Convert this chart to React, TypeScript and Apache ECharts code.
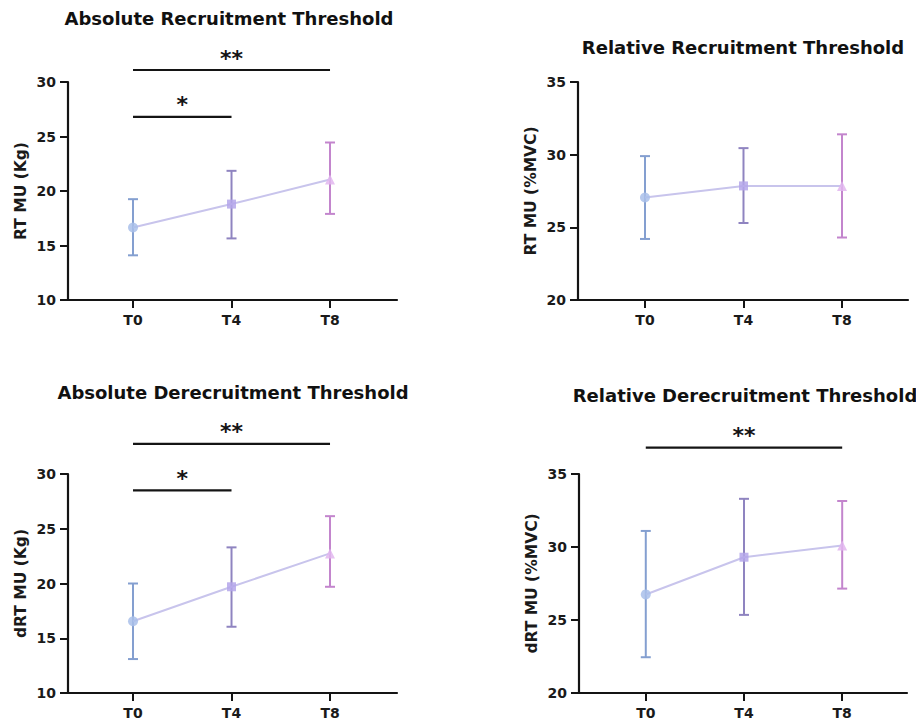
import React, { useEffect, useRef } from "react";
import * as echarts from "echarts";

const FONT = "DejaVu Sans";

const categories = ["T0", "T4", "T8"];

// Absolute recruitment threshold (Kg)
const absRTMean = [16.65, 18.8, 21.05];
const absRTLow = [14.1, 15.65, 17.9];
const absRTHigh = [19.25, 21.85, 24.45];

// Relative recruitment threshold (%MVC)
const relRTMean = [27.05, 27.85, 27.85];
const relRTLow = [24.2, 25.3, 24.3];
const relRTHigh = [29.9, 30.45, 31.4];

// Absolute derecruitment threshold (Kg)
const absDRTMean = [16.55, 19.7, 22.75];
const absDRTLow = [13.1, 16.05, 19.7];
const absDRTHigh = [20.0, 23.3, 26.15];

// Relative derecruitment threshold (%MVC)
const relDRTMean = [26.75, 29.3, 30.1];
const relDRTLow = [22.45, 25.35, 27.15];
const relDRTHigh = [31.1, 33.3, 33.15];

// significance brackets: [fromIndex, toIndex, level, label]
const absRTSig: [number, number, number, string][] = [
  [0, 2, 31.1, "**"],
  [0, 1, 26.8, "*"],
];
const relRTSig: [number, number, number, string][] = [];
const absDRTSig: [number, number, number, string][] = [
  [0, 2, 32.75, "**"],
  [0, 1, 28.5, "*"],
];
const relDRTSig: [number, number, number, string][] = [[0, 2, 36.8, "**"]];

const titles = [
  "Absolute Recruitment Threshold",
  "Relative Recruitment Threshold",
  "Absolute Derecruitment Threshold",
  "Relative Derecruitment Threshold",
];
const yNames = ["RT MU (Kg)", "RT MU (%MVC)", "dRT MU (Kg)", "dRT MU (%MVC)"];

const barColors = ["#849fd0", "#8f84c0", "#c385cd"];
const markerColors = ["#a9bfea", "#b4a6ea", "#e2b6ee"];
const markerSymbols = ["circle", "rect", "triangle"];
const lineColor = "#c8c4ec";
const axisColor = "#141414";

type Panel = {
  mean: number[];
  low: number[];
  high: number[];
  sig: [number, number, number, string][];
  yMin: number;
  yMax: number;
  grid: { left: number; top: number; width: number; height: number };
  xMin: number;
  xMax: number;
  title: string;
  titleX: number;
  titleY: number;
  yName: string;
};

const panels: Panel[] = [
  {
    mean: absRTMean, low: absRTLow, high: absRTHigh, sig: absRTSig,
    yMin: 10, yMax: 30,
    grid: { left: 68, top: 82, width: 329, height: 218 },
    xMin: -0.66, xMax: 2.68,
    title: titles[0], titleX: 229, titleY: 18, yName: yNames[0],
  },
  {
    mean: relRTMean, low: relRTLow, high: relRTHigh, sig: relRTSig,
    yMin: 20, yMax: 35,
    grid: { left: 578, top: 82, width: 330, height: 218 },
    xMin: -0.68, xMax: 2.67,
    title: titles[1], titleX: 743, titleY: 47, yName: yNames[1],
  },
  {
    mean: absDRTMean, low: absDRTLow, high: absDRTHigh, sig: absDRTSig,
    yMin: 10, yMax: 30,
    grid: { left: 68, top: 474, width: 329, height: 219 },
    xMin: -0.66, xMax: 2.68,
    title: titles[2], titleX: 233, titleY: 392, yName: yNames[2],
  },
  {
    mean: relDRTMean, low: relDRTLow, high: relDRTHigh, sig: relDRTSig,
    yMin: 20, yMax: 35,
    grid: { left: 579, top: 474, width: 328, height: 219 },
    xMin: -0.68, xMax: 2.66,
    title: titles[3], titleX: 745, titleY: 395, yName: yNames[3],
  },
];

function buildOption() {
  const grid: any[] = [];
  const xAxis: any[] = [];
  const yAxis: any[] = [];
  const series: any[] = [];
  const graphic: any[] = [];

  panels.forEach((p, k) => {
    grid.push({ ...p.grid, containLabel: false });
    xAxis.push({
      type: "value",
      gridIndex: k,
      min: p.xMin,
      max: p.xMax,
      splitLine: { show: false },
      axisLine: { show: true, onZero: false, lineStyle: { color: axisColor, width: 2.2 } },
      axisTick: { show: true, customValues: [0, 1, 2], length: 8, lineStyle: { color: axisColor, width: 2 } },
      axisLabel: {
        customValues: [0, 1, 2],
        formatter: (v: number) => categories[Math.round(v)],
        color: "#1a1a1a",
        fontFamily: FONT,
        fontWeight: "bold",
        fontSize: 14,
        margin: 13,
      },
    });
    yAxis.push({
      type: "value",
      gridIndex: k,
      min: p.yMin,
      max: p.yMax,
      interval: 5,
      splitLine: { show: false },
      name: p.yName,
      nameLocation: "middle",
      nameGap: 39,
      nameRotate: 90,
      nameTextStyle: { color: "#1a1a1a", fontFamily: FONT, fontWeight: "bold", fontSize: 15.5 },
      axisLine: { show: true, onZero: false, lineStyle: { color: axisColor, width: 2.2 } },
      axisTick: { show: true, length: 8, lineStyle: { color: axisColor, width: 2 } },
      axisLabel: { color: "#1a1a1a", fontFamily: FONT, fontWeight: "bold", fontSize: 14, margin: 12 },
    });

    // error bars
    series.push({
      type: "custom",
      xAxisIndex: k,
      yAxisIndex: k,
      z: 2,
      clip: false,
      data: p.mean.map((_, i) => [i, p.low[i], p.high[i]]),
      renderItem: (params: any, api: any) => {
        const i = api.value(0);
        const top = api.coord([i, api.value(2)]);
        const bot = api.coord([i, api.value(1)]);
        const cap = 5;
        const style = { stroke: barColors[i], lineWidth: 2 };
        return {
          type: "group",
          children: [
            { type: "line", shape: { x1: top[0], y1: top[1], x2: bot[0], y2: bot[1] }, style },
            { type: "line", shape: { x1: top[0] - cap, y1: top[1], x2: top[0] + cap, y2: top[1] }, style },
            { type: "line", shape: { x1: bot[0] - cap, y1: bot[1], x2: bot[0] + cap, y2: bot[1] }, style },
          ],
        };
      },
    });

    // mean line
    series.push({
      type: "line",
      xAxisIndex: k,
      yAxisIndex: k,
      z: 3,
      lineStyle: { color: lineColor, width: 2 },
      symbolSize: 8,
      data: p.mean.map((m, i) => ({
        value: [i, m],
        symbol: markerSymbols[i],
        symbolSize: markerSymbols[i] === "rect" ? 9 : 10,
        itemStyle: { color: markerColors[i], opacity: 0.85 },
      })),
    });

    // significance brackets
    if (p.sig.length) {
      series.push({
        type: "custom",
        xAxisIndex: k,
        yAxisIndex: k,
        z: 4,
        clip: false,
        data: p.sig.map((s) => [s[0], s[1], s[2], s[3]]),
        renderItem: (params: any, api: any) => {
          const a = api.coord([api.value(0), api.value(2)]);
          const b = api.coord([api.value(1), api.value(2)]);
          const label = p.sig[params.dataIndex][3];
          return {
            type: "group",
            children: [
              {
                type: "line",
                shape: { x1: a[0], y1: a[1], x2: b[0], y2: b[1] },
                style: { stroke: "#141414", lineWidth: 2.2 },
              },
              {
                type: "text",
                x: (a[0] + b[0]) / 2,
                y: a[1] - 12,
                style: {
                  text: label,
                  fill: "#141414",
                  font: `bold 22px '${FONT}'`,
                  textAlign: "center",
                  textVerticalAlign: "middle",
                },
              },
            ],
          };
        },
      });
    }

    graphic.push({
      type: "text",
      x: p.titleX,
      y: p.titleY,
      style: {
        text: p.title,
        fill: "#111",
        font: `bold 18px '${FONT}'`,
        textAlign: "center",
        textVerticalAlign: "middle",
      },
    });
  });

  return {
    animation: false,
    backgroundColor: "#ffffff",
    grid,
    xAxis,
    yAxis,
    series,
    graphic,
  };
}

export default function App() {
  const ref = useRef<HTMLDivElement>(null);
  useEffect(() => {
    if (!ref.current) return;
    const chart = echarts.init(ref.current, null, { renderer: "svg" });
    chart.setOption(buildOption() as any);
    return () => chart.dispose();
  }, []);
  return (
    <div
      ref={ref}
      style={{ position: "fixed", left: 0, top: 0, width: 916, height: 724, background: "#fff" }}
    />
  );
}
